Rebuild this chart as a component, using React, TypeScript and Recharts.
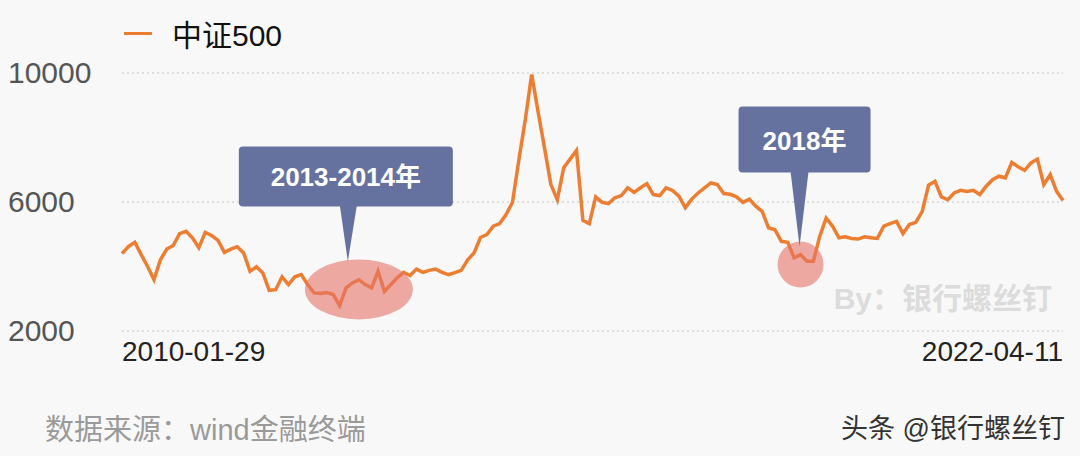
import React from "react";
import {
  LineChart,
  Line,
  XAxis,
  YAxis,
  CartesianGrid,
  ReferenceDot,
} from "recharts";

// 中证500 monthly closes, 2010-01 .. 2022-04
const csi500 = [
  4400, 4620, 4750, 4370, 4000, 3590, 4210, 4540, 4650, 5020,
  5090, 4890, 4580, 5060, 4960, 4810, 4440, 4540, 4610, 4420,
  3850, 3990, 3800, 3260, 3280, 3680, 3440, 3680, 3750, 3440,
  3180, 3160, 3190, 3130, 2790, 3340, 3490, 3590, 3440, 3340,
  3850, 3230, 3440, 3650, 3820, 3720, 3920, 3820, 3880, 3920,
  3820, 3750, 3810, 3880, 4210, 4420, 4900, 4990, 5250, 5330,
  5610, 5990, 7310, 8550, 9950, 8800, 7680, 6540, 6070, 7060,
  7330, 7600, 5430, 5330, 6160, 5990, 5950, 6130, 6200, 6440,
  6300, 6440, 6570, 6230, 6200, 6440, 6360, 6180, 5820, 6090,
  6280, 6440, 6590, 6540, 6260, 6240, 6160, 5990, 6090, 5870,
  5710, 5200, 5140, 4780, 4750, 4270, 4370, 4160, 4160, 4940,
  5500, 5250, 4890, 4920, 4870, 4850, 4920, 4890, 4870, 5250,
  5330, 5400, 5020, 5300, 5370, 5700, 6520, 6640, 6160, 6070,
  6280, 6360, 6330, 6360, 6230, 6490, 6690, 6800, 6750, 7230,
  7090, 6980, 7210, 7330, 6540, 6850, 6330, 6050,
];

const xLabels = ["2010-01-29", "2022-04-11"];
const yTicks = [2000, 6000, 10000];
const seriesName = "中证500";

const bottomLeft = "数据来源：wind金融终端";
const bottomRight = "头条 @银行螺丝钉";
const watermark = "By：银行螺丝钉";

// callouts: index, value, label
const callouts = [
  { i: 37, v: 3290, label: "2013-2014年" },
  { i: 106, v: 4060, label: "2018年" },
];

const data = csi500.map((v, i) => ({ i, v }));
const last = csi500.length - 1;

const FONT = "'Liberation Sans', 'Noto Sans CJK SC', sans-serif";
const ORANGE = "#ed7d31";
const BOX = "#6572a0";

const YTick = (props: any) => {
  const { y, payload } = props;
  return (
    <text x={8} y={y} dy={10} fontSize={30} fill="#555" fontFamily={FONT}>
      {payload.value}
    </text>
  );
};

const XTick = (props: any) => {
  const { x, y, payload } = props;
  const first = payload.value === 0;
  return (
    <text
      x={x}
      y={y}
      dy={22}
      textAnchor={first ? "start" : "end"}
      fontSize={28}
      fill="#222"
      fontFamily={FONT}
    >
      {first ? xLabels[0] : xLabels[1]}
    </text>
  );
};

// ellipse callout for 2013-2014
const EllipseCallout = (props: any) => {
  const { cx, cy } = props;
  return (
    <g>
      <ellipse cx={cx} cy={cy} rx={54} ry={30} fill="#e57368" fillOpacity={0.6} />
      <path
        d={`M ${cx - 19} ${cy - 84} L ${cx - 2} ${cy - 84} L ${cx - 11} ${cy - 28} Z`}
        fill={BOX}
      />
      <rect x={cx - 120} y={cy - 143} width={214} height={60} rx={4} fill={BOX} />
      <text
        x={cx - 13}
        y={cy - 103}
        textAnchor="middle"
        fontSize={26}
        fontWeight="bold"
        fill="#fff"
        fontFamily={FONT}
      >
        {callouts[0].label}
      </text>
    </g>
  );
};

const CircleCallout = (props: any) => {
  const { cx, cy } = props;
  return (
    <g>
      <circle cx={cx} cy={cy} r={23} fill="#e57368" fillOpacity={0.6} />
      <path
        d={`M ${cx - 10} ${cy - 93} L ${cx + 8} ${cy - 93} L ${cx - 1} ${cy - 18} Z`}
        fill={BOX}
      />
      <rect x={cx - 62} y={cy - 158} width={132} height={66} rx={4} fill={BOX} />
      <text
        x={cx + 4}
        y={cy - 115}
        textAnchor="middle"
        fontSize={26}
        fontWeight="bold"
        fill="#fff"
        fontFamily={FONT}
      >
        {callouts[1].label}
      </text>
    </g>
  );
};

export default function App() {
  return (
    <div
      style={{
        position: "absolute",
        left: 0,
        top: 0,
        width: 1080,
        height: 456,
        background: "#f8f8f8",
        fontFamily: FONT,
        overflow: "hidden",
      }}
    >
      <LineChart
        width={1080}
        height={456}
        data={data}
        margin={{ top: 73, right: 17, bottom: 84, left: 0 }}
      >
        <CartesianGrid
          vertical={false}
          stroke="#c4c4c4"
          strokeDasharray="2 3"
        />
        <XAxis
          type="number"
          dataKey="i"
          domain={[0, last]}
          ticks={[0, last]}
          axisLine={false}
          tickLine={false}
          height={41}
          tick={<XTick />}
        />
        <YAxis
          domain={[2000, 10000]}
          ticks={yTicks}
          axisLine={false}
          tickLine={false}
          width={122}
          tick={<YTick />}
        />
        <text
          x={1052}
          y={309}
          textAnchor="end"
          fontSize={30}
          fontWeight="bold"
          fill="#dcdcdc"
          fontFamily={FONT}
        >
          {watermark}
        </text>
        <Line
          type="linear"
          dataKey="v"
          name={seriesName}
          stroke={ORANGE}
          strokeWidth={3.5}
          dot={false}
          isAnimationActive={false}
        />
        <ReferenceDot
          x={callouts[0].i}
          y={callouts[0].v}
          shape={<EllipseCallout />}
        />
        <ReferenceDot
          x={callouts[1].i}
          y={callouts[1].v}
          shape={<CircleCallout />}
        />
      </LineChart>
      {/* legend */}
      <div
        style={{
          position: "absolute",
          left: 124,
          top: 11,
          display: "flex",
          alignItems: "center",
          whiteSpace: "nowrap",
        }}
      >
        <span
          style={{
            display: "inline-block",
            width: 28,
            height: 3,
            background: ORANGE,
            marginRight: 20,
          }}
        />
        <span style={{ fontSize: 30, color: "#111" }}>{seriesName}</span>
      </div>
      <div
        style={{
          position: "absolute",
          left: 45,
          top: 406,
          fontSize: 29,
          color: "#9a9a9a",
          whiteSpace: "nowrap",
        }}
      >
        {bottomLeft}
      </div>
      <div
        style={{
          position: "absolute",
          right: 15,
          top: 407,
          fontSize: 27,
          color: "#333",
          whiteSpace: "nowrap",
        }}
      >
        {bottomRight}
      </div>
    </div>
  );
}
